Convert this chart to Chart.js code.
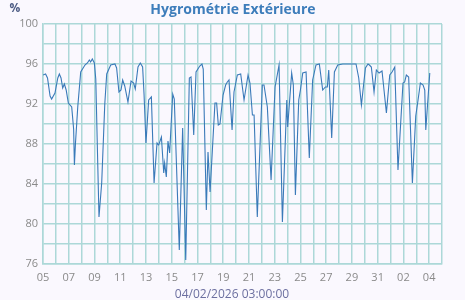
<!DOCTYPE html>
<html lang="fr">
<head>
    <meta charset="UTF-8" />
    <title>Hygrométrie Extérieure</title>
    <script src="https://cdn.jsdelivr.net/npm/chart.js"></script>
    <style>
        html, body { margin: 0; padding: 0; background: #faf8fe; }
        #wrap { width: 465px; height: 300px; position: relative; }
    </style>
</head>
<body>
    <div id="wrap"><canvas id="hygroChart"></canvas></div>

    <script>
        // days since 05/01/2026 00:00
        const days = [
            0.0, 0.2, 0.35, 0.55, 0.67, 0.93, 1.15, 1.27, 1.4, 1.53, 1.66, 1.8, 1.97, 2.23, 2.38, 2.44, 2.52, 2.7, 2.93,
            3.26, 3.45, 3.6, 3.7, 3.83, 3.99, 4.1, 4.35, 4.56, 4.8, 4.95, 5.26, 5.59, 5.72, 5.9, 6.06, 6.19, 6.35, 6.6,
            6.84, 7.04, 7.17, 7.38, 7.56, 7.74, 7.85, 8.0, 8.21, 8.42, 8.63, 8.86, 8.99, 9.2, 9.38, 9.45, 9.58, 9.71,
            9.84, 10.08, 10.2, 10.59, 10.85, 11.09, 11.37, 11.5, 11.71, 11.89, 12.18, 12.35, 12.45, 12.69, 12.82, 12.98,
            13.36, 13.49, 13.62, 13.75, 13.99, 14.19, 14.32, 14.45, 14.69, 14.84, 15.1, 15.36, 15.62, 15.93, 16.08,
            16.27, 16.4, 16.65, 17.04, 17.17, 17.43, 17.72, 18.03, 18.34, 18.6, 18.94, 19.01, 19.32, 19.45, 19.61,
            19.87, 20.0, 20.18, 20.44, 20.69, 20.95, 21.21, 21.47, 21.73, 21.94, 22.09, 22.2, 22.43, 22.64, 22.9,
            23.29, 24.32, 24.53, 24.74, 25.05, 25.25, 25.36, 25.51, 25.72, 25.9, 26.11, 26.34, 26.68, 26.94, 27.12,
            27.33, 27.58, 27.97, 28.1, 28.23, 28.41, 28.7, 28.96, 29.14, 29.32, 29.53, 29.66, 29.74, 30.05
        ];
        const humidity = [
            94.9, 95.0, 94.6, 92.8, 92.5, 93.1, 94.6, 95.0, 94.6, 93.6, 94.0, 93.4, 92.1, 91.7, 89.5, 85.9, 88.0, 91.7, 95.2,
            95.9, 96.1, 96.4, 96.2, 96.5, 96.1, 94.5, 80.7, 84.1, 92.0, 95.0, 95.9, 96.0, 95.6, 93.2, 93.4, 94.4, 93.8, 92.2,
            94.3, 94.1, 93.5, 95.7, 96.1, 95.7, 93.0, 88.1, 92.4, 92.7, 84.1, 88.1, 87.9, 88.7, 85.1, 86.1, 84.7, 88.3,
            87.1, 93.0, 92.5, 77.4, 89.6, 76.4, 94.6, 94.7, 88.9, 95.2, 95.8, 96.0, 95.5, 81.4, 87.2, 83.2,
            92.1, 92.1, 89.9, 90.0, 92.9, 93.9, 94.2, 94.4, 89.4, 93.2, 94.9, 95.0, 92.4, 94.9, 94.1,
            90.9, 90.9, 80.7, 93.9, 93.9, 91.7, 84.4, 93.7, 95.9, 80.2, 92.4, 89.7, 95.1, 93.9, 82.9,
            92.4, 93.4, 95.1, 95.2, 86.6, 94.4, 95.9, 96.0, 93.4, 93.7, 93.7, 95.4, 88.6, 95.2, 95.9,
            96.0, 96.0, 94.6, 91.9, 95.6, 96.0, 95.9, 95.7, 93.2, 95.4, 95.1, 95.3, 91.1, 94.9, 95.2,
            95.7, 85.4, 94.1, 94.2, 94.9, 94.7, 84.1, 90.8, 92.4, 94.1, 93.9, 93.4, 89.4, 95.1
        ];
        // one label per day tick, only every other one is shown
        const dayLabels = [
            "05", "06", "07", "08", "09", "10", "11", "12", "13", "14", "15", "16", "17", "18", "19", "20",
            "21", "22", "23", "24", "25", "26", "27", "28", "29", "30", "31", "01", "02", "03", "04", "05"
        ];
        const yTicks = [76, 80, 84, 88, 92, 96, 100];

        const gridColor = "#acd8d8";

        // title, "%" and the date line drawn by hand (centred on the canvas, not the plot)
        const headerText = {
            id: "headerText",
            afterDraw(chart) {
                const ctx = chart.ctx;
                ctx.save();
                ctx.textBaseline = "middle";
                ctx.textAlign = "center";
                ctx.fillStyle = "#3d7dbb";
                ctx.font = "bold 14px 'Open Sans'";
                ctx.fillText("Hygrométrie Extérieure", 233, 10);
                ctx.fillStyle = "#4d5c85";
                ctx.font = "bold 12px 'Open Sans'";
                ctx.fillText("%", 15, 9);
                ctx.fillStyle = "#6c6fa0";
                ctx.font = "12px 'Open Sans'";
                ctx.fillText("04/02/2026 03:00:00", 232, 295);
                ctx.restore();
            }
        };

        new Chart(document.getElementById("hygroChart"), {
            type: "line",
            data: {
                datasets: [{
                    data: days.map((d, i) => ({ x: d, y: humidity[i] })),
                    borderColor: "#3a7ab9",
                    borderWidth: 1.1,
                    pointRadius: 0,
                    fill: false,
                    tension: 0
                }]
            },
            options: {
                responsive: true,
                maintainAspectRatio: false,
                animation: false,
                layout: { padding: { top: 24, right: 23, left: 0, bottom: 0 } },
                plugins: {
                    legend: { display: false },
                    tooltip: { enabled: false }
                },
                scales: {
                    x: {
                        type: "linear",
                        min: 0,
                        max: 31,
                        afterFit: (axis) => { axis.height = 36; },
                        grid: { color: gridColor, lineWidth: 1.5, drawTicks: false },
                        border: { color: gridColor, width: 1.5 },
                        ticks: {
                            stepSize: 1,
                            autoSkip: false,
                            maxRotation: 0,
                            padding: 7,
                            color: "#8a8a8a",
                            font: { family: "'Open Sans'", size: 11 },
                            callback: (v) => (v % 2 === 0 ? dayLabels[v] : "")
                        }
                    },
                    y: {
                        min: 76,
                        max: 100,
                        afterFit: (axis) => { axis.width = 43; },
                        grid: { color: gridColor, lineWidth: 1.5, drawTicks: false },
                        border: { color: gridColor, width: 1.5 },
                        ticks: {
                            stepSize: 2,
                            autoSkip: false,
                            padding: 5,
                            color: "#8a8a8a",
                            font: { family: "'Open Sans'", size: 11 },
                            callback: (v) => (yTicks.includes(v) ? v : "")
                        }
                    }
                }
            },
            plugins: [headerText]
        });
    </script>
</body>
</html>
